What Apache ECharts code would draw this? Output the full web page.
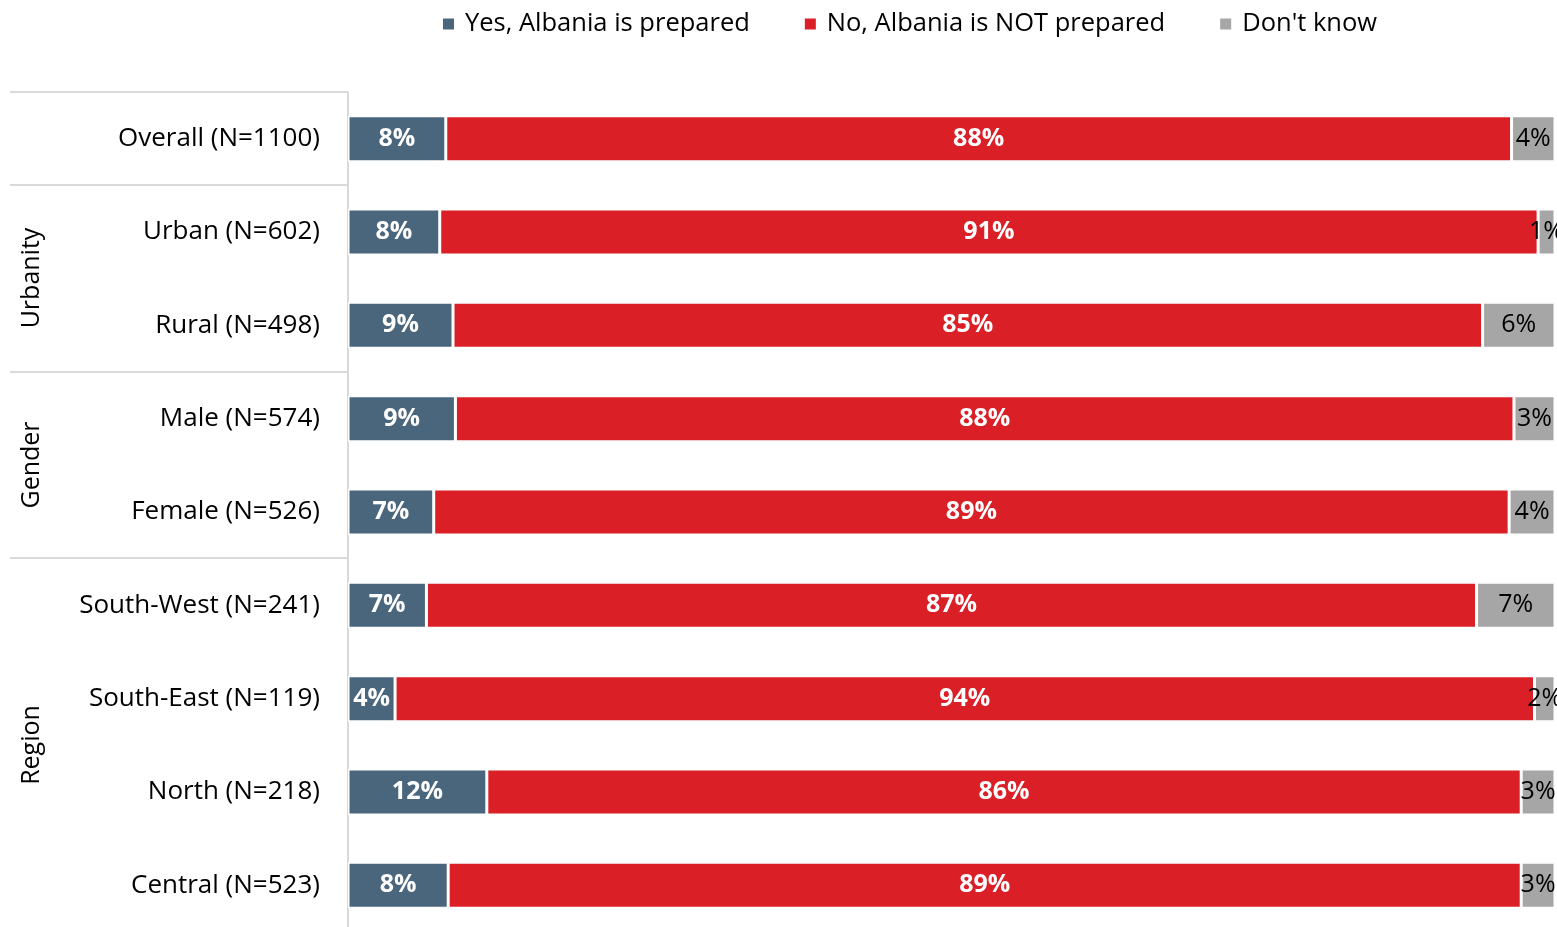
<!DOCTYPE html>
<html><head><meta charset="utf-8">
<script src="https://cdn.jsdelivr.net/npm/echarts@6/dist/echarts.min.js"></script>
<style>html,body{margin:0;padding:0;background:#fff;overflow:hidden}#c{width:1557px;height:935px}</style>
</head><body><div id="c"></div>
<script>
const categories = ['Overall (N=1100)','Urban (N=602)','Rural (N=498)','Male (N=574)','Female (N=526)','South-West (N=241)','South-East (N=119)','North (N=218)','Central (N=523)'];
const seriesNames = ['Yes, Albania is prepared','No, Albania is NOT prepared',"Don't know"];
const yesValues = [8.1, 7.6, 8.7, 8.9, 7.1, 6.5, 3.9, 11.5, 8.3];
const noValues  = [88.3, 91.0, 85.3, 87.7, 89.1, 87.0, 94.4, 85.7, 88.9];
const dkValues  = [3.6, 1.4, 6.0, 3.4, 3.8, 6.5, 1.7, 2.8, 2.8];
const groups = [{name:'Urbanity', y:278},{name:'Gender', y:465},{name:'Region', y:745}];
const separatorsY = [92, 185, 372, 558];

const FONT = 'Open Sans';
const colors = ['#4a667c','#da1f27','#a6a6a6'];
const chart = echarts.init(document.getElementById('c'));
const fmt = p => Math.round(p.value) + '%';
function mk(i, data, lblColor, bold) {
  return {
    name: seriesNames[i], type: 'bar', stack: 'total', data: data, barWidth: 46,
    itemStyle: {color: colors[i], borderColor: '#fff', borderWidth: 1.5},
    label: {show: true, position: 'inside', formatter: fmt, color: lblColor,
      fontFamily: FONT, fontSize: 25, fontWeight: bold ? 'bold' : 'normal'},
    emphasis: {disabled: true}
  };
}
const graphic = separatorsY.map(y => ({type:'line', shape:{x1:10,y1:y,x2:347,y2:y}, style:{stroke:'#d9d9d9', lineWidth:2}}))
  .concat(groups.map(g => ({type:'text', x:32, y:g.y, rotation:Math.PI/2,
    style:{text:g.name, fontFamily:FONT, fontSize:25, fill:'#000', align:'center', verticalAlign:'middle'}})));
chart.setOption({
  animation: false,
  textStyle: {fontFamily: FONT},
  color: colors,
  legend: {top: 11, left: 441, padding: 0, itemWidth: 13, itemHeight: 13, itemGap: 53,
    icon: 'rect', textStyle: {fontFamily: FONT, fontSize: 25.5, color: '#000', padding: [0,0,0,5]}, data: seriesNames},
  grid: {left: 348, right: 2, top: 92, bottom: 3, containLabel: false},
  xAxis: {type: 'value', min: 0, max: 100, show: false},
  yAxis: {type: 'category', data: categories, inverse: true,
    axisLine: {show: true, lineStyle: {color: '#d9d9d9', width: 2}},
    axisTick: {show: false},
    axisLabel: {color: '#000', fontFamily: FONT, fontSize: 26, margin: 28}},
  graphic: graphic,
  series: [mk(0, yesValues, '#fff', true), mk(1, noValues, '#fff', true), mk(2, dkValues, '#000', false)]
});
</script></body></html>
